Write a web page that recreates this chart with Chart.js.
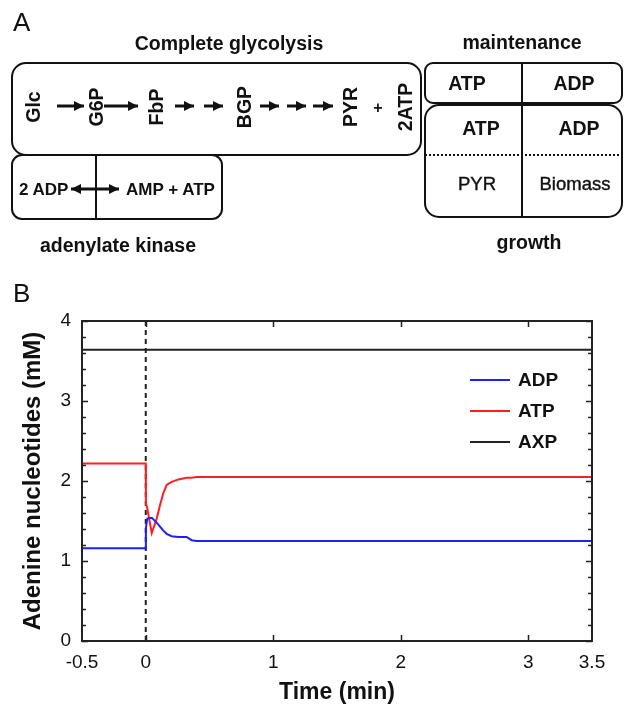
<!DOCTYPE html>
<html>
<head>
<meta charset="utf-8">
<script src="https://cdn.jsdelivr.net/npm/chart.js@4.4.1/dist/chart.umd.min.js"></script>
<style>
  html, body { margin: 0; padding: 0; background: #fff; }
  #wrap { position: relative; width: 625px; height: 707px; overflow: hidden; }
  #chartBox { position: absolute; left: 0; top: 0; width: 625px; height: 707px; }
  #scheme { position: absolute; left: 0; top: 0; }
  #scheme text { font-family: 'Liberation Sans', Arial, sans-serif; fill: #111; }
  .b { font-weight: bold; }
</style>
</head>
<body>
<div id="wrap">
  <div id="chartBox"><canvas id="chartB"></canvas></div>

  <!-- Panel A: reaction scheme -->
  <svg id="scheme" width="625" height="310" viewBox="0 0 625 310">
    <defs>
      <marker id="head" viewBox="0 0 10 10" refX="10" refY="5" markerUnits="userSpaceOnUse"
              markerWidth="10" markerHeight="10" orient="auto-start-reverse">
        <path d="M0,0 L10,5 L0,10 z" fill="#111"/>
      </marker>
    </defs>

    <text x="13" y="31" font-size="26">A</text>
    <text x="13" y="302" font-size="26">B</text>

    <g class="b" font-size="19.5" text-anchor="middle" dominant-baseline="central">
      <text x="229" y="43">Complete glycolysis</text>
      <text x="118" y="245">adenylate kinase</text>
      <text x="522" y="42">maintenance</text>
      <text x="529" y="242">growth</text>
    </g>

    <g fill="none" stroke="#111" stroke-width="2">
      <rect x="12" y="63" width="409" height="92" rx="14"/>
      <rect x="12" y="155" width="210" height="64" rx="10"/>
      <line x1="96" y1="155" x2="96" y2="219"/>
      <rect x="425" y="63" width="197" height="40" rx="8"/>
      <line x1="522" y1="63" x2="522" y2="103"/>
      <rect x="425" y="105" width="197" height="112" rx="14"/>
      <line x1="522" y1="105" x2="522" y2="217"/>
      <line x1="425" y1="155" x2="622" y2="155" stroke-dasharray="2,2"/>
    </g>

    <g class="b" font-size="19.5" text-anchor="middle" dominant-baseline="central">
      <text transform="translate(33,107) rotate(-90)">Glc</text>
      <text transform="translate(96,107) rotate(-90)">G6P</text>
      <text transform="translate(156,107) rotate(-90)">FbP</text>
      <text transform="translate(244,107) rotate(-90)">BGP</text>
      <text transform="translate(350,107) rotate(-90)">PYR</text>
      <text x="378" y="107" font-size="16">+</text>
      <text transform="translate(405,107) rotate(-90)">2ATP</text>
    </g>

    <g stroke="#111" stroke-width="3" marker-end="url(#head)">
      <line x1="57" y1="106" x2="84" y2="106"/>
      <line x1="104" y1="106" x2="138" y2="106"/>
      <line x1="175" y1="106" x2="194" y2="106"/>
      <line x1="204" y1="106" x2="223" y2="106"/>
      <line x1="260" y1="106" x2="279" y2="106"/>
      <line x1="287" y1="106" x2="306" y2="106"/>
      <line x1="313" y1="106" x2="333" y2="106"/>
    </g>

    <text class="b" x="19" y="189" font-size="17" dominant-baseline="central">2 ADP</text>
    <line x1="71" y1="189" x2="119" y2="189" stroke="#111" stroke-width="3"
          marker-start="url(#head)" marker-end="url(#head)"/>
    <text class="b" x="126" y="189" font-size="17" dominant-baseline="central">AMP + ATP</text>

    <g class="b" font-size="19.5" text-anchor="middle" dominant-baseline="central">
      <text x="467" y="83">ATP</text>
      <text x="574" y="83">ADP</text>
      <text x="481" y="128">ATP</text>
      <text x="579" y="128">ADP</text>
    </g>
    <g font-size="18.5" text-anchor="middle" dominant-baseline="central" stroke="#111" stroke-width="0.4">
      <text x="477" y="183">PYR</text>
      <text x="575" y="183">Biomass</text>
    </g>
  </svg>
</div>

<script>
// Panel B data
const timeMin   = [-0.5, 0, 0.001, 0.012, 0.047, 0.086, 0.112, 0.138, 0.164, 0.203, 0.256, 0.321, 0.36, 0.4, 3.5];
const adpValues = [1.16, 1.16, 1.41, 1.53, 1.54, 1.48, 1.43, 1.38, 1.34, 1.31, 1.30, 1.30, 1.26, 1.25, 1.25];
const atpValues = [2.22, 2.22, 1.72, 1.66, 1.35, 1.53, 1.70, 1.85, 1.95, 1.99, 2.02, 2.04, 2.04, 2.05, 2.05];
const axpTimes  = [-0.5, 3.5];
const axpLevel  = 3.64;
const perturbationTime = 0;
const xTickValues = [-0.5, 0, 1, 2, 3, 3.5];
const yTickValues = [0, 1, 2, 3, 4];
const seriesLabels = ['ADP', 'ATP', 'AXP'];
const seriesColors = ['#1f1fff', '#ff1f1f', '#222222'];

Chart.defaults.font.family = "'Liberation Sans', Arial, sans-serif";
Chart.defaults.color = '#111';

const toPoints = (xs, ys) => xs.map((x, i) => ({ x: x, y: ys[i] }));

// box around the plot with inward ticks (like the original figure)
const frameTicks = {
  id: 'frameTicks',
  afterDatasetsDraw(chart) {
    const { ctx, chartArea: { left, right, top, bottom }, scales: { x, y } } = chart;
    ctx.save();
    ctx.strokeStyle = '#222';
    ctx.lineWidth = 2;
    ctx.strokeRect(left, top, right - left, bottom - top);
    ctx.lineWidth = 1.5;
    ctx.beginPath();
    for (let v = y.min; v <= y.max + 1e-9; v += 0.2) {
      const py = Math.round(y.getPixelForValue(v)) + 0.5;
      const len = Math.abs(v - Math.round(v)) < 1e-6 ? 6 : 4;
      ctx.moveTo(left, py); ctx.lineTo(left + len, py);
      ctx.moveTo(right, py); ctx.lineTo(right - len, py);
    }
    xTickValues.slice(1, -1).forEach(v => {
      const px = Math.round(x.getPixelForValue(v)) + 0.5;
      ctx.moveTo(px, bottom); ctx.lineTo(px, bottom - 6);
      ctx.moveTo(px, top); ctx.lineTo(px, top + 6);
    });
    ctx.stroke();
    ctx.restore();
  }
};

// legend inside the plot, right side
const innerLegend = {
  id: 'innerLegend',
  afterDatasetsDraw(chart) {
    const { ctx, chartArea } = chart;
    const x0 = chartArea.right - 122;
    ctx.save();
    ctx.font = "bold 19px 'Liberation Sans', Arial, sans-serif";
    ctx.textBaseline = 'middle';
    chart.data.datasets.filter(d => d.inLegend).forEach((d, i) => {
      const yy = chartArea.top + 59 + i * 31;
      ctx.strokeStyle = d.borderColor;
      ctx.lineWidth = 2;
      ctx.beginPath();
      ctx.moveTo(x0, yy); ctx.lineTo(x0 + 40, yy);
      ctx.stroke();
      ctx.fillStyle = '#111';
      ctx.fillText(d.label, x0 + 48, yy + 1);
    });
    ctx.restore();
  }
};

new Chart(document.getElementById('chartB'), {
  type: 'line',
  data: {
    datasets: [
      { label: seriesLabels[0], data: toPoints(timeMin, adpValues), borderColor: seriesColors[0], inLegend: true },
      { label: seriesLabels[1], data: toPoints(timeMin, atpValues), borderColor: seriesColors[1], inLegend: true },
      { label: seriesLabels[2], data: axpTimes.map(t => ({ x: t, y: axpLevel })), borderColor: seriesColors[2], inLegend: true },
      {
        label: 'perturbation',
        data: [{ x: perturbationTime, y: yTickValues[0] }, { x: perturbationTime, y: yTickValues[yTickValues.length - 1] }],
        borderColor: '#222', borderWidth: 2, borderDash: [5, 4], inLegend: false
      }
    ]
  },
  options: {
    responsive: true,
    maintainAspectRatio: false,
    animation: false,
    datasets: { line: { borderWidth: 2, pointRadius: 0, tension: 0, fill: false } },
    layout: { padding: { top: 321, right: 33, left: 0, bottom: 0 } },
    plugins: { legend: { display: false }, tooltip: { enabled: false } },
    scales: {
      x: {
        type: 'linear',
        min: xTickValues[0],
        max: xTickValues[xTickValues.length - 1],
        afterBuildTicks: s => { s.ticks = xTickValues.map(v => ({ value: v })); },
        afterFit: s => { s.height = 66; },
        grid: { display: false, drawTicks: false },
        border: { display: false },
        ticks: { font: { size: 19 }, padding: 10, maxRotation: 0, callback: v => String(v) },
        title: { display: true, text: 'Time (min)', font: { size: 23, weight: 'bold' }, padding: { top: 0, bottom: 1 } }
      },
      y: {
        min: yTickValues[0],
        max: yTickValues[yTickValues.length - 1],
        afterBuildTicks: s => { s.ticks = yTickValues.map(v => ({ value: v })); },
        afterFit: s => { s.width = 82; },
        grid: { display: false, drawTicks: false },
        border: { display: false },
        ticks: { font: { size: 19 }, padding: 11, callback: v => String(v) },
        title: { display: true, text: 'Adenine nucleotides (mM)', font: { size: 24, weight: 'bold' }, padding: { top: 19, bottom: 0 } }
      }
    }
  },
  plugins: [frameTicks, innerLegend]
});
</script>
</body>
</html>
